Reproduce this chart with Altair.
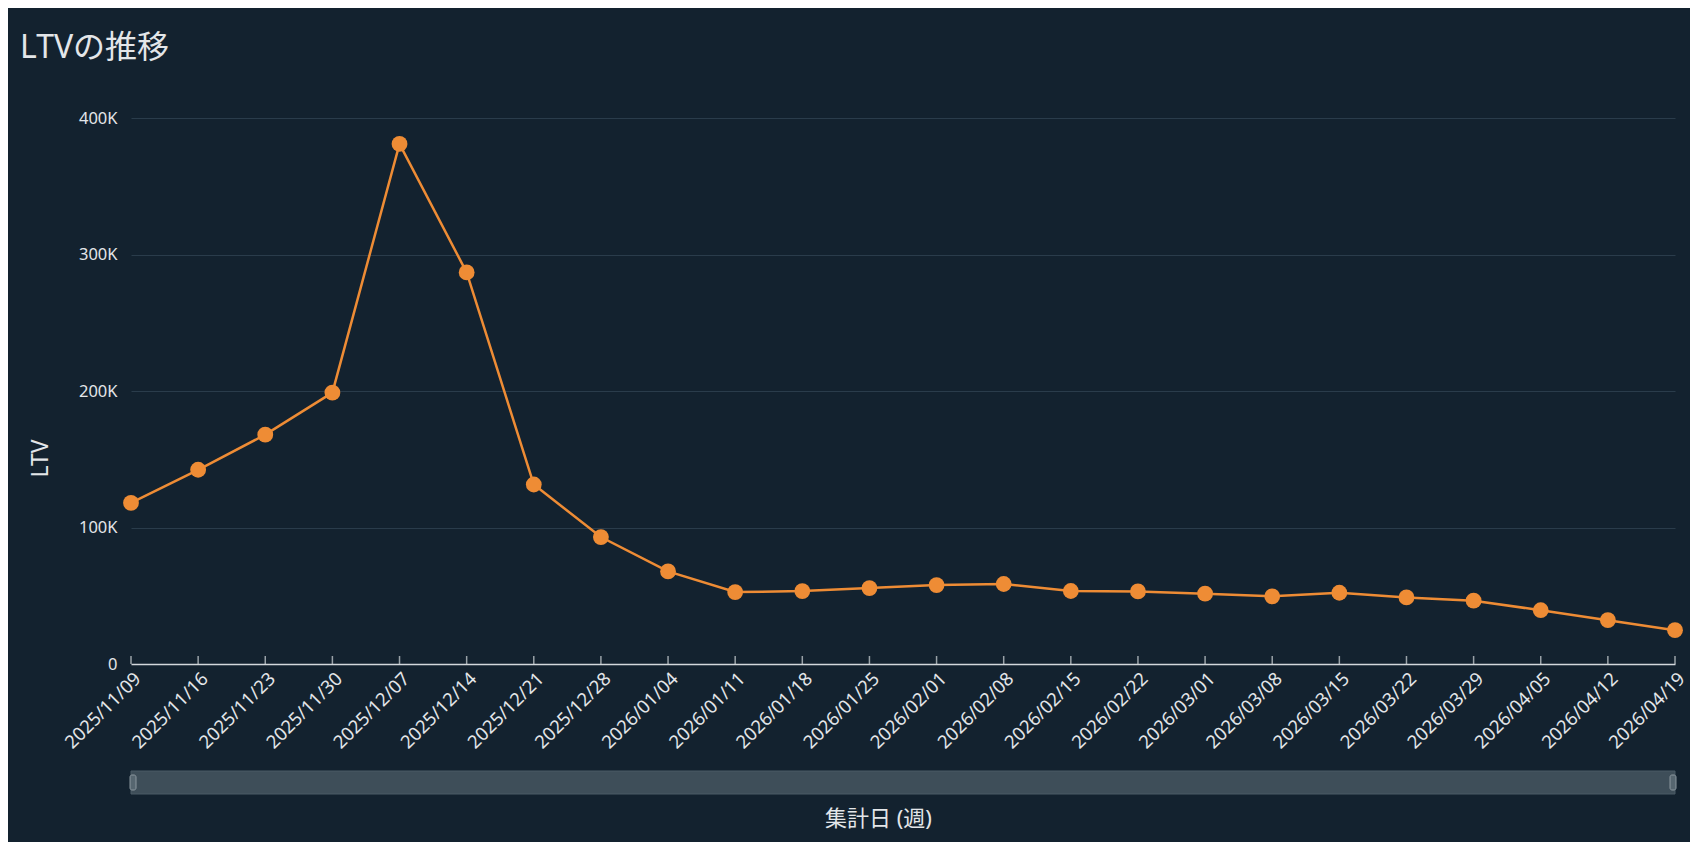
import altair as alt
import pandas as pd

weeks = ["2025/11/09", "2025/11/16", "2025/11/23", "2025/11/30", "2025/12/07",
         "2025/12/14", "2025/12/21", "2025/12/28", "2026/01/04", "2026/01/11",
         "2026/01/18", "2026/01/25", "2026/02/01", "2026/02/08", "2026/02/15",
         "2026/02/22", "2026/03/01", "2026/03/08", "2026/03/15", "2026/03/22",
         "2026/03/29", "2026/04/05", "2026/04/12", "2026/04/19"]
ltv = [118000, 142300, 168000, 198800, 381000,
       286900, 131500, 93000, 67800, 52700,
       53400, 55600, 57800, 58600, 53500,
       53200, 51500, 49600, 52200, 48800,
       46400, 39400, 32100, 24800]
y_ticks = [0, 100000, 200000, 300000, 400000]

df = pd.DataFrame({"week": weeks, "ltv": ltv})

BG = "#13222f"
ORANGE = "#ee8c35"
TXT = "#e3e6e9"
GRID = "#2a3c4b"
AXIS = "#d3d8dc"
FONT = "Noto Sans, Noto Sans CJK JP"
W, H = 1544, 546

x_enc = alt.X("week:O", sort=None,
              scale=alt.Scale(type="point", padding=0),
              axis=alt.Axis(title="集計日 (週)", labelAngle=-45, labelAlign="right",
                            labelBaseline="top", labelPadding=5, ticks=False,
                            domainColor=AXIS, domainWidth=1.5,
                            labelColor=TXT, labelFontSize=18.5, labelFont=FONT,
                            titleColor=TXT, titleFontSize=22, titleFont=FONT,
                            titleFontWeight="normal", titleX=747, titleY=154,
                            titleAlign="center", titleBaseline="middle"))
y_enc = alt.Y("ltv:Q", scale=alt.Scale(domain=[0, 400000], nice=False),
              axis=alt.Axis(title="LTV", values=y_ticks,
                            labelExpr="datum.value == 0 ? '0' : (datum.value / 1000) + 'K'",
                            domain=False, ticks=False, grid=True, gridColor=GRID,
                            gridWidth=1, labelPadding=14, labelColor=TXT,
                            labelFontSize=16.5, labelFont=FONT,
                            titleColor=TXT, titleFontSize=23, titleFont=FONT,
                            titleFontWeight="normal", titleX=-91, titleY=340,
                            titleAlign="center", titleBaseline="middle", titleAngle=-90))

base = alt.Chart(df)

line = base.mark_line(color=ORANGE, strokeWidth=2.5).encode(x=x_enc, y=y_enc)
pts = base.mark_circle(color=ORANGE, size=250, opacity=1).encode(x=x_enc, y=y_enc)
ticks = base.mark_tick(orient="vertical", color=AXIS, size=8, thickness=1.5,
                       yOffset=-4).encode(x=x_enc, y=alt.datum(0))

deco = alt.Chart(pd.DataFrame({"k": [0]}))
scroll = deco.mark_rect(fill="#3e4e59", stroke="#4b5b66", strokeWidth=1).encode(
    x=alt.value(0), x2=alt.value(W), y=alt.value(653), y2=alt.value(676))
handle_l = deco.mark_rect(fill="#566670", stroke="#8b979f", strokeWidth=1,
                          cornerRadius=2).encode(
    x=alt.value(-1), x2=alt.value(5), y=alt.value(657), y2=alt.value(672))
handle_r = deco.mark_rect(fill="#566670", stroke="#8b979f", strokeWidth=1,
                          cornerRadius=2).encode(
    x=alt.value(W - 5), x2=alt.value(W + 1), y=alt.value(657), y2=alt.value(672))

chart = alt.layer(scroll, handle_l, handle_r, ticks, line, pts).properties(
    width=W, height=H,
    background=BG,
    autosize=alt.AutoSizeParams(type="none"),
    padding={"left": 123, "top": 110, "right": 15, "bottom": 178},
    title=alt.TitleParams("LTVの推移", anchor="start", frame="group", dx=-111,
                          fontSize=32, font=FONT, fontWeight="normal", color=TXT,
                          offset=45),
).configure_view(stroke="transparent")

chart.save("out.html", embed_options={"renderer": "svg", "actions": False})
